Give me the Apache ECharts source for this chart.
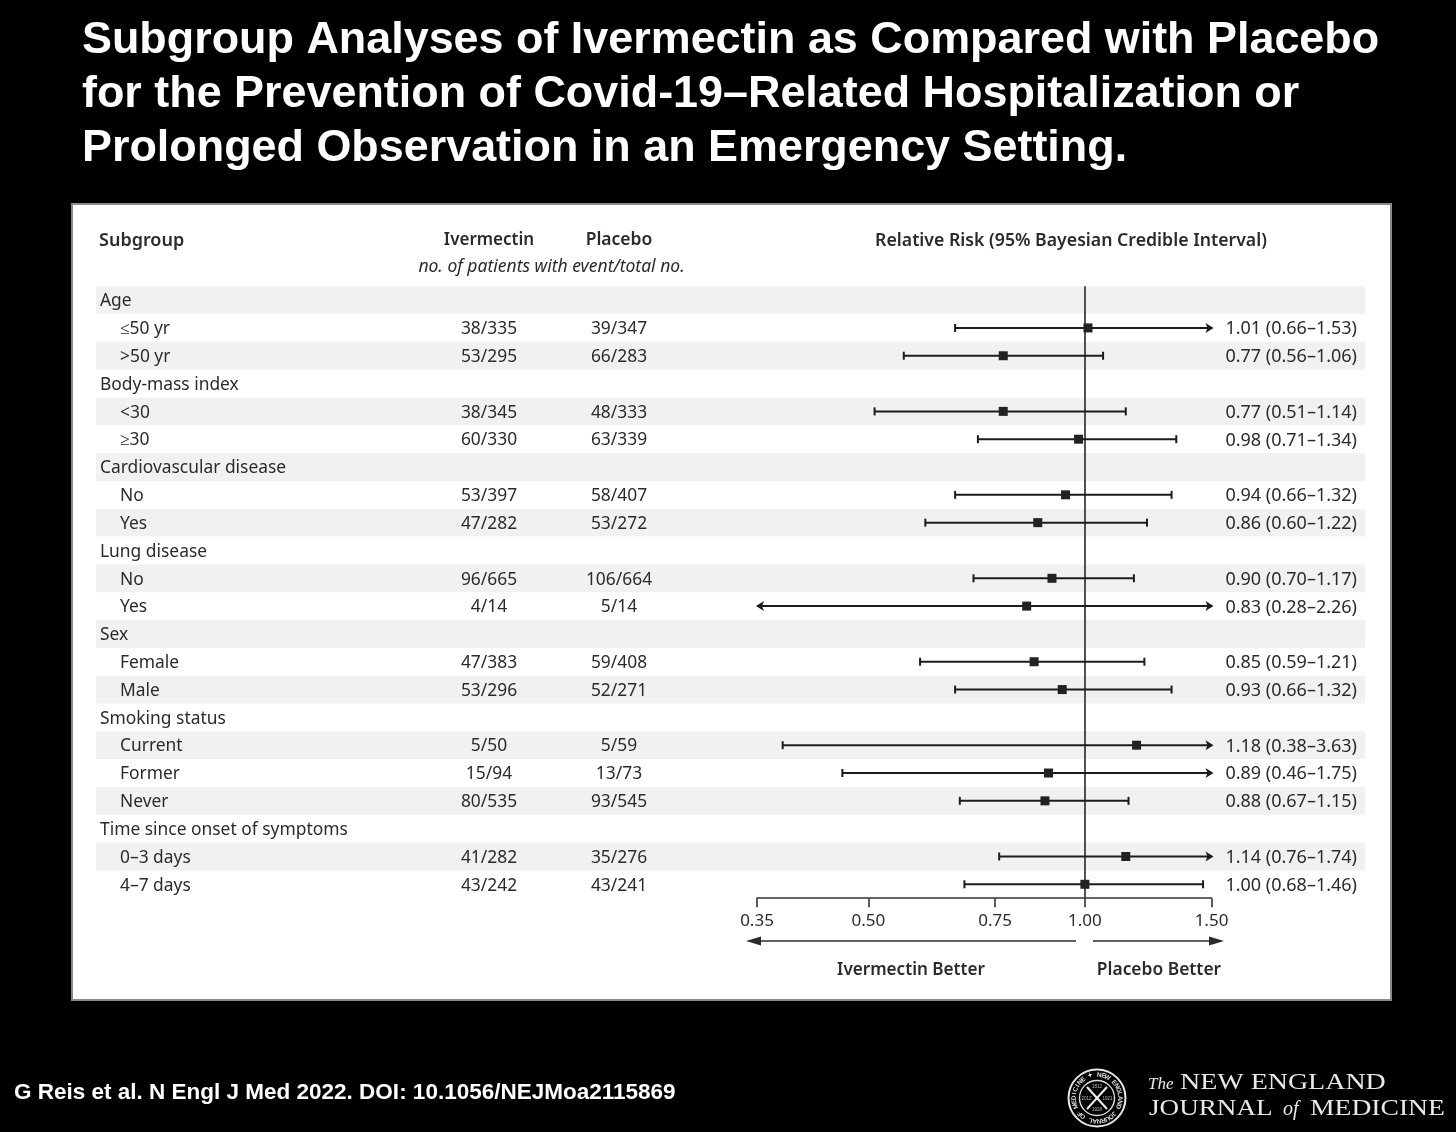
<!DOCTYPE html>
<html><head><meta charset="utf-8">
<script src="https://cdn.jsdelivr.net/npm/echarts@6/dist/echarts.min.js"></script>
<style>html,body{margin:0;background:#000}#c{width:1456px;height:1132px}</style>
</head><body><div id="c"></div>
<script>
const rowLabels = ['Age','≤50 yr','>50 yr','Body-mass index','<30','≥30','Cardiovascular disease','No','Yes','Lung disease','No','Yes','Sex','Female','Male','Smoking status','Current','Former','Never','Time since onset of symptoms','0–3 days','4–7 days'];
const ivermectin = [null,'38/335','53/295',null,'38/345','60/330',null,'53/397','47/282',null,'96/665','4/14',null,'47/383','53/296',null,'5/50','15/94','80/535',null,'41/282','43/242'];
const placebo = [null,'39/347','66/283',null,'48/333','63/339',null,'58/407','53/272',null,'106/664','5/14',null,'59/408','52/271',null,'5/59','13/73','93/545',null,'35/276','43/241'];
const relativeRisk = [null,1.01,0.77,null,0.77,0.98,null,0.94,0.86,null,0.90,0.83,null,0.85,0.93,null,1.18,0.89,0.88,null,1.14,1.00];
const ciLow = [null,0.66,0.56,null,0.51,0.71,null,0.66,0.60,null,0.70,0.28,null,0.59,0.66,null,0.38,0.46,0.67,null,0.76,0.68];
const ciHigh = [null,1.53,1.06,null,1.14,1.34,null,1.32,1.22,null,1.17,2.26,null,1.21,1.32,null,3.63,1.75,1.15,null,1.74,1.46];
const axisTicks = [0.35,0.50,0.75,1.00,1.50];
const titleText = 'Subgroup Analyses of Ivermectin as Compared with Placebo\nfor the Prevention of Covid-19–Related Hospitalization or\nProlonged Observation in an Emergency Setting.';
const citation = 'G Reis et al. N Engl J Med 2022. DOI: 10.1056/NEJMoa2115869';
const sealRing = 'NEW ENGLAND JOURNAL OF MEDICINE ✦ ';

const INK = '#2b2b2b', FONT = '"Noto Sans"', MARK = '#1c1c1c';
const AX_MIN = 0.35, AX_MAX = 1.5;
const chart = echarts.init(document.getElementById('c'), null, {renderer:'canvas'});

function txt(text,x,y,o){return {type:'text',silent:true,z:5,style:Object.assign({text,x,y,fill:INK,font:'17.4px '+FONT,textAlign:'left',textVerticalAlign:'middle'},o||{})};}
function stretched(text,x,y,font,sx){return {type:'text',silent:true,z:5,x,y,scaleX:sx,style:{text,x:0,y:0,fill:'#e8e8e8',font,textAlign:'left',textVerticalAlign:'middle'}};}

function renderTable(params,api){
  const i = api.value(0), y = api.coord([1,i])[1], h = api.size([0,1])[1];
  const kids = [];
  if(i%2===0) kids.push({type:'rect',shape:{x:96,y:y-h/2,width:1269,height:h},style:{fill:'#f0f1f0'}});
  const group = ivermectin[i]===null, ty = y+1.3;
  kids.push(txt(rowLabels[i],group?100:120,ty));
  if(!group){
    kids.push(txt(ivermectin[i],489,ty,{textAlign:'center'}));
    kids.push(txt(placebo[i],619,ty,{textAlign:'center'}));
    const f=v=>v.toFixed(2);
    kids.push(txt(f(relativeRisk[i])+' ('+f(ciLow[i])+'–'+f(ciHigh[i])+')',1357,ty,{textAlign:'right',font:'18px '+FONT}));
  }
  return {type:'group',children:kids};
}
function renderForest(params,api){
  const rr=api.value(0), row=api.value(1), lo=api.value(2), hi=api.value(3);
  const y=api.coord([1,row])[1];
  const x0=api.coord([Math.max(lo,AX_MIN),row])[0], x1=api.coord([Math.min(hi,AX_MAX),row])[0], xm=api.coord([rr,row])[0];
  const ln={stroke:MARK,lineWidth:2,fill:null}, kids=[];
  kids.push({type:'line',shape:{x1:x0,y1:y,x2:x1,y2:y},style:ln});
  if(lo>=AX_MIN) kids.push({type:'line',shape:{x1:x0,y1:y-4,x2:x0,y2:y+4},style:ln});
  else kids.push({type:'polygon',shape:{points:[[x0-1,y],[x0+7,y-5],[x0+5,y],[x0+7,y+5]]},style:{fill:MARK}});
  if(hi<=AX_MAX) kids.push({type:'line',shape:{x1:x1,y1:y-4,x2:x1,y2:y+4},style:ln});
  else kids.push({type:'polygon',shape:{points:[[x1+2,y],[x1-6,y-5],[x1-4,y],[x1-6,y+5]]},style:{fill:MARK}});
  kids.push({type:'rect',shape:{x:xm-4.5,y:y-4.5,width:9,height:9},style:{fill:'#222'}});
  return {type:'group',children:kids};
}

const SX=1097,SY=1098,seal=[];
seal.push({type:'circle',shape:{cx:SX,cy:SY,r:28.5},style:{fill:'#000',stroke:'#e6e6e6',lineWidth:2}});
seal.push({type:'circle',shape:{cx:SX,cy:SY,r:17.5},style:{fill:null,stroke:'#ddd',lineWidth:1.4}});
seal.push({type:'line',shape:{x1:SX-10,y1:SY-11,x2:SX+10,y2:SY+11},style:{stroke:'#eee',lineWidth:2}});
seal.push({type:'line',shape:{x1:SX+10,y1:SY-11,x2:SX-10,y2:SY+11},style:{stroke:'#eee',lineWidth:2}});
[...sealRing].forEach((c,k)=>{
  const a=k/sealRing.length*2*Math.PI+0.1;
  seal.push({type:'text',silent:true,x:SX+23*Math.sin(a),y:SY-23*Math.cos(a),rotation:-a,
    style:{text:c,x:0,y:0,fill:'#ddd',font:'bold 6.5px "Liberation Sans"',textAlign:'center',textVerticalAlign:'middle'}});
});
[['1812',0,-11],['1928',0,12],['2012',-10.5,0.5],['1921',10.5,0.5]].forEach(([t,dx,dy])=>{
  seal.push({type:'text',silent:true,style:{text:t,x:SX+dx,y:SY+dy,fill:'#bbb',font:'4.5px "Liberation Sans"',textAlign:'center',textVerticalAlign:'middle'}});
});

const option = {
  backgroundColor:'#000',
  animation:false,
  title:{text:titleText,left:82,top:14,padding:0,textStyle:{color:'#fff',fontFamily:'"Liberation Sans"',fontWeight:'bold',fontSize:44.9,lineHeight:54}},
  grid:{left:757,right:244.5,top:286.2,height:612,containLabel:false},
  xAxis:{type:'log',logBase:10,min:AX_MIN,max:AX_MAX,position:'bottom',
    axisLine:{show:true,lineStyle:{color:'#333',width:1.6}},
    axisTick:{show:true,customValues:axisTicks,length:9,inside:false,lineStyle:{color:'#333',width:1.6}},
    minorTick:{show:false},splitLine:{show:false},
    axisLabel:{show:true,customValues:axisTicks,margin:14,color:INK,fontFamily:FONT,fontSize:17,formatter:v=>Number(v).toFixed(2),showMinLabel:true,showMaxLabel:true,hideOverlap:false}},
  yAxis:{type:'category',inverse:true,data:rowLabels,show:false},
  graphic:[
    {type:'rect',z:-10,shape:{x:72,y:204,width:1319,height:796},style:{fill:'#fff',stroke:'#8a8a8a',lineWidth:2}},
    txt('Subgroup',99,240.5,{font:'600 18px '+FONT}),
    txt('Ivermectin',489,240.5,{font:'600 17px '+FONT,textAlign:'center'}),
    txt('Placebo',619,240.5,{font:'600 17.5px '+FONT,textAlign:'center'}),
    txt('no. of patients with event/total no.',551.5,267,{font:'italic 17.5px '+FONT,textAlign:'center'}),
    txt('Relative Risk (95% Bayesian Credible Interval)',1071,240.5,{font:'600 17.7px '+FONT,textAlign:'center'}),
    txt('Ivermectin Better',911,970.5,{font:'600 17.1px '+FONT,textAlign:'center'}),
    txt('Placebo Better',1159,970.5,{font:'600 17.4px '+FONT,textAlign:'center'}),
    {type:'line',z:5,shape:{x1:1076,y1:941,x2:755,y2:941},style:{stroke:INK,lineWidth:1.5}},
    {type:'polygon',z:5,shape:{points:[[746,941],[761,936.5],[761,945.5]]},style:{fill:INK}},
    {type:'line',z:5,shape:{x1:1093,y1:941,x2:1215,y2:941},style:{stroke:INK,lineWidth:1.5}},
    {type:'polygon',z:5,shape:{points:[[1224,941],[1209,936.5],[1209,945.5]]},style:{fill:INK}},
    txt(citation,14,1093,{fill:'#fff',font:'bold 22.5px "Liberation Sans"'}),
    txt('The',1148,1085,{fill:'#e8e8e8',font:'italic 17px "Liberation Serif"'}),
    stretched('NEW ENGLAND',1180,1083,'24px "Liberation Serif"',1.165),
    stretched('JOURNAL',1149,1109,'24px "Liberation Serif"',1.13),
    txt('of',1283,1110,{fill:'#e8e8e8',font:'italic 20px "Liberation Serif"'}),
    stretched('MEDICINE',1310,1109,'24px "Liberation Serif"',1.15)
  ].concat(seal),
  series:[
    {type:'custom',name:'table',coordinateSystem:'cartesian2d',z:1,clip:false,silent:true,
     encode:{y:0},data:rowLabels.map((_,i)=>[i]),renderItem:renderTable},
    {type:'custom',name:'Relative risk',coordinateSystem:'cartesian2d',z:4,clip:false,silent:true,
     encode:{x:[0,2,3],y:1},
     data:relativeRisk.map((v,i)=>v===null?null:[v,i,ciLow[i],ciHigh[i]]).filter(Boolean),
     renderItem:renderForest,
     markLine:{silent:true,symbol:'none',z:3,label:{show:false},lineStyle:{color:'#333',width:1.7,type:'solid'},data:[{xAxis:1}]}}
  ]
};
chart.setOption(option);
</script></body></html>
